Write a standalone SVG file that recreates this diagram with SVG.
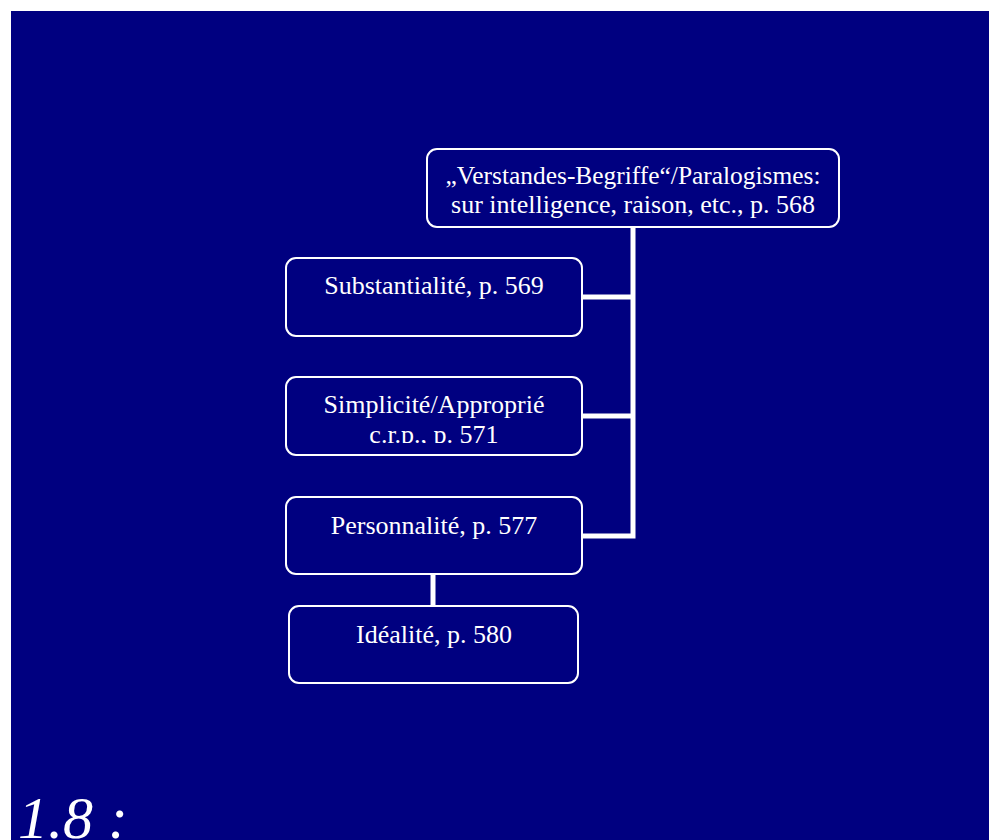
<svg xmlns="http://www.w3.org/2000/svg" width="989" height="840" viewBox="0 0 989 840">
<style>
.box{fill:#000080;stroke:#fff;stroke-width:2}
.t{fill:#fff;font-family:"Liberation Serif","Times New Roman",serif;font-size:26px;text-anchor:middle}
.c{stroke:#fff;stroke-width:5;fill:none}
</style>
<defs>
<clipPath id="clipS"><rect x="286" y="377" width="296" height="66"/></clipPath>
</defs>
<rect x="0" y="0" width="989" height="840" fill="#fff"/>
<rect x="11" y="11" width="978" height="829" fill="#000080"/>
<g id="connectors">
<polyline class="c" points="633,227 633,536 582,536"/>
<line class="c" x1="582" y1="297" x2="633" y2="297"/>
<line class="c" x1="582" y1="416" x2="633" y2="416"/>
<line class="c" x1="433" y1="574" x2="433" y2="606"/>
</g>
<g id="root">
<rect class="box" x="427" y="149" width="412" height="78" rx="10"/>
<text class="t" x="633" y="184" textLength="375" lengthAdjust="spacingAndGlyphs">„Verstandes-Begriffe“/Paralogismes:</text>
<text class="t" x="633" y="213">sur intelligence, raison, etc., p. 568</text>
</g>
<g id="substantialite">
<rect class="box" x="286" y="258" width="296" height="78" rx="10"/>
<text class="t" x="434" y="294">Substantialité, p. 569</text>
</g>
<g id="simplicite">
<rect class="box" x="286" y="377" width="296" height="78" rx="10"/>
<g clip-path="url(#clipS)">
<text class="t" x="434" y="413">Simplicité/Approprié</text>
<text class="t" x="434" y="443">c.r.p., p. 571</text>
</g>
</g>
<g id="personnalite">
<rect class="box" x="286" y="497" width="296" height="77" rx="10"/>
<text class="t" x="434" y="534">Personnalité, p. 577</text>
</g>
<g id="idealite">
<rect class="box" x="289" y="606" width="289" height="77" rx="10"/>
<text class="t" x="434" y="643">Idéalité, p. 580</text>
</g>
<text x="18" y="838" fill="#fff" font-family="'Liberation Serif','Times New Roman',serif" font-style="italic" font-size="60">1.8 :</text>
</svg>
